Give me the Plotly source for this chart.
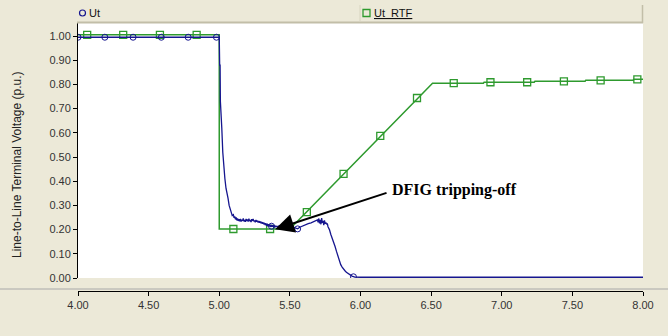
import plotly.graph_objects as go

# ---- data ----
ut_t = [4.00, 4.99, 5.000, 5.003, 5.006, 5.008, 5.012, 5.018, 5.025, 5.032, 5.040, 5.048, 5.055,
        5.062, 5.070, 5.078, 5.085, 5.092, 5.100, 5.105, 5.110, 5.115, 5.120, 5.125, 5.130, 5.135,
        5.140, 5.145, 5.150, 5.155, 5.160, 5.165, 5.170, 5.175, 5.180, 5.185, 5.190, 5.195, 5.200,
        5.205, 5.210, 5.215, 5.220, 5.225, 5.230, 5.235, 5.240, 5.245, 5.250, 5.255, 5.260, 5.265,
        5.270, 5.275, 5.280, 5.285, 5.290, 5.295, 5.300, 5.305, 5.310, 5.315, 5.320, 5.325, 5.330,
        5.335, 5.340, 5.345, 5.350, 5.355, 5.360, 5.365, 5.370, 5.375, 5.380, 5.385, 5.390, 5.395,
        5.400, 5.410, 5.420, 5.430, 5.440, 5.450, 5.460, 5.470, 5.480, 5.490, 5.500, 5.510, 5.520,
        5.530, 5.540, 5.555, 5.570, 5.590, 5.610, 5.630, 5.650, 5.670, 5.685, 5.695, 5.700, 5.705,
        5.710, 5.715, 5.720, 5.725, 5.730, 5.735, 5.740, 5.745, 5.750, 5.755, 5.760, 5.765, 5.770,
        5.780, 5.790, 5.800, 5.810, 5.820, 5.830, 5.840, 5.850, 5.860, 5.870, 5.880, 5.890, 5.900,
        5.920, 5.940, 5.960, 6.000, 8.000]
ut_v = [0.995, 0.995, 0.995, 0.88, 0.88, 0.73, 0.70, 0.62, 0.52, 0.46, 0.41, 0.37, 0.34,
        0.33, 0.30, 0.285, 0.27, 0.258, 0.262, 0.248, 0.255, 0.242, 0.250, 0.238, 0.246, 0.236,
        0.243, 0.234, 0.244, 0.233, 0.241, 0.236, 0.246, 0.234, 0.240, 0.232, 0.244, 0.236, 0.242,
        0.233, 0.245, 0.235, 0.240, 0.231, 0.243, 0.236, 0.244, 0.234, 0.238, 0.230, 0.240, 0.233,
        0.237, 0.229, 0.236, 0.228, 0.234, 0.226, 0.232, 0.224, 0.230, 0.222, 0.228, 0.219, 0.226,
        0.216, 0.224, 0.214, 0.222, 0.213, 0.220, 0.211, 0.219, 0.212, 0.218, 0.210, 0.217, 0.211,
        0.215, 0.212, 0.214, 0.216, 0.213, 0.217, 0.219, 0.222, 0.220, 0.218, 0.216, 0.214, 0.212,
        0.209, 0.206, 0.203, 0.210, 0.216, 0.221, 0.225, 0.228, 0.232, 0.236, 0.240, 0.230, 0.246,
        0.226, 0.240, 0.222, 0.248, 0.228, 0.236, 0.218, 0.238, 0.224, 0.230, 0.222, 0.226, 0.212,
        0.200, 0.180, 0.165, 0.150, 0.130, 0.110, 0.090, 0.070, 0.055, 0.045, 0.036, 0.030, 0.024,
        0.015, 0.008, 0.004, 0.003, 0.003]
ut_mark_t = [4.00, 4.19, 4.39, 4.59, 4.78, 4.98, 5.37, 5.555, 5.95]
ut_mark_v = [0.995, 0.995, 0.995, 0.995, 0.995, 0.995, 0.214, 0.203, 0.005]

rtf_t = [4.00, 5.00, 5.00, 5.50, 6.51, 6.87, 6.875, 7.23, 7.235, 7.59, 7.595, 7.93, 7.935, 8.00]
rtf_v = [1.005, 1.005, 0.2025, 0.2025, 0.805, 0.805, 0.809, 0.809, 0.813, 0.813, 0.817, 0.817, 0.821, 0.821]
rtf_mark_t = [4.065, 4.32, 4.58, 4.84, 5.10, 5.36, 5.62, 5.88, 6.14, 6.40, 6.66, 6.92, 7.18, 7.44, 7.70, 7.96]
rtf_mark_v = [1.005, 1.005, 1.005, 1.005, 0.2025, 0.2025, 0.272, 0.43, 0.587, 0.744, 0.805, 0.809,
              0.809, 0.813, 0.817, 0.821]

x_ticks = [4.0, 4.5, 5.0, 5.5, 6.0, 6.5, 7.0, 7.5, 8.0]
y_ticks = [0.0, 0.1, 0.2, 0.3, 0.4, 0.5, 0.6, 0.7, 0.8, 0.9, 1.0]

BLUE = "#16168f"
GREEN = "#2e9a2e"
BEIGE = "#ece9d8"

W, H = 668, 336
ML, MR, MT, MB = 78, 25, 22, 45
PW, PH = W - ML - MR, H - MT - MB


def px_x(p):
    return (p - ML) / PW


def px_y(p):
    return (H - MB - p) / PH


fig = go.Figure()
fig.add_trace(go.Scatter(x=rtf_t, y=rtf_v, mode="lines", line=dict(color=GREEN, width=1.5),
                         showlegend=False, hoverinfo="skip"))
fig.add_trace(go.Scatter(x=rtf_mark_t, y=rtf_mark_v, mode="markers",
                         marker=dict(symbol="square-open", size=7, color=GREEN, line=dict(width=1.3)),
                         showlegend=False))
fig.add_trace(go.Scatter(x=ut_t, y=ut_v, mode="lines", line=dict(color=BLUE, width=1.3),
                         showlegend=False, hoverinfo="skip"))
fig.add_trace(go.Scatter(x=ut_mark_t, y=ut_mark_v, mode="markers",
                         marker=dict(symbol="circle-open", size=6, color=BLUE, line=dict(width=1)),
                         showlegend=False))

shapes = [
    # legend bar
    dict(type="rect", xref="paper", yref="paper", x0=px_x(77), x1=px_x(643), y0=px_y(22), y1=px_y(5),
         fillcolor=BEIGE, line=dict(width=0), layer="above"),
    dict(type="line", xref="paper", yref="paper", x0=px_x(77), x1=px_x(643), y0=px_y(22.5), y1=px_y(22.5),
         line=dict(color="#c2bea8", width=2)),
    dict(type="line", xref="paper", yref="paper", x0=px_x(642.5), x1=px_x(642.5), y0=px_y(23), y1=px_y(5),
         line=dict(color="#c2bea8", width=1.5)),
    dict(type="line", xref="paper", yref="paper", x0=px_x(360), x1=px_x(360), y0=px_y(22), y1=px_y(5),
         line=dict(color="#d8d4c0", width=1)),
    # separator line across the full width
    dict(type="line", xref="paper", yref="paper", x0=px_x(0), x1=px_x(668), y0=px_y(289), y1=px_y(289),
         line=dict(color="#a8a8a8", width=1)),
    # legend symbols
    dict(type="circle", xref="paper", yref="paper", xsizemode="pixel", ysizemode="pixel",
         xanchor=px_x(82.5), yanchor=px_y(13), x0=-3, x1=3, y0=-3, y1=3,
         line=dict(color=BLUE, width=1.2)),
    dict(type="rect", xref="paper", yref="paper", xsizemode="pixel", ysizemode="pixel",
         xanchor=px_x(366.5), yanchor=px_y(13), x0=-3.5, x1=3.5, y0=-3.5, y1=3.5,
         line=dict(color=GREEN, width=1.3)),
]

annotations = [
    dict(text="Ut", xref="paper", yref="paper", x=px_x(87), y=px_y(13.5), xanchor="left", yanchor="middle",
         showarrow=False, font=dict(family="Liberation Sans, Arial", size=11, color="#111")),
    dict(text="<u>Ut_RTF</u>", xref="paper", yref="paper", x=px_x(372), y=px_y(13.5), xanchor="left",
         yanchor="middle", showarrow=False, font=dict(family="Liberation Sans, Arial", size=11, color="#111")),
    dict(text="Line-to-Line Terminal Voltage (p.u.)", xref="paper", yref="paper", x=px_x(17), y=px_y(165),
         xanchor="center", yanchor="middle", textangle=-90, showarrow=False,
         font=dict(family="Liberation Sans, Arial", size=12, color="#222")),
    # arrow
    dict(text="", x=5.395, y=0.201, xref="x", yref="y", ax=113, ay=-37, showarrow=True,
         arrowhead=2, arrowsize=1.9, arrowwidth=2, arrowcolor="black"),
    dict(text="<b>DFIG tripping-off</b>", xref="paper", yref="paper", x=px_x(390), y=px_y(190),
         xanchor="left", yanchor="middle", showarrow=False,
         font=dict(family="Liberation Serif, Times New Roman", size=16, color="black")),
]

fig.update_layout(
    width=W, height=H,
    margin=dict(l=ML, r=MR, t=MT, b=MB, pad=0),
    paper_bgcolor=BEIGE, plot_bgcolor="white",
    shapes=shapes, annotations=annotations,
    showlegend=False,
    xaxis=dict(range=[4.0, 8.0], tickvals=x_ticks, tickformat=".2f", anchor="free", position=0,
               showline=True, linecolor="black", linewidth=1, ticks="outside", ticklen=4,
               tickcolor="black", showgrid=False, zeroline=False,
               tickfont=dict(family="Liberation Sans, Arial", size=11, color="#333")),
    yaxis=dict(range=[0, 1.058], domain=[px_y(278), 1], tickvals=y_ticks, tickformat=".2f",
               showline=True, linecolor="black", linewidth=1, ticks="outside", ticklen=4,
               tickcolor="black", showgrid=False, zeroline=False,
               tickfont=dict(family="Liberation Sans, Arial", size=11, color="#333")),
)

fig.write_html("out.html")
